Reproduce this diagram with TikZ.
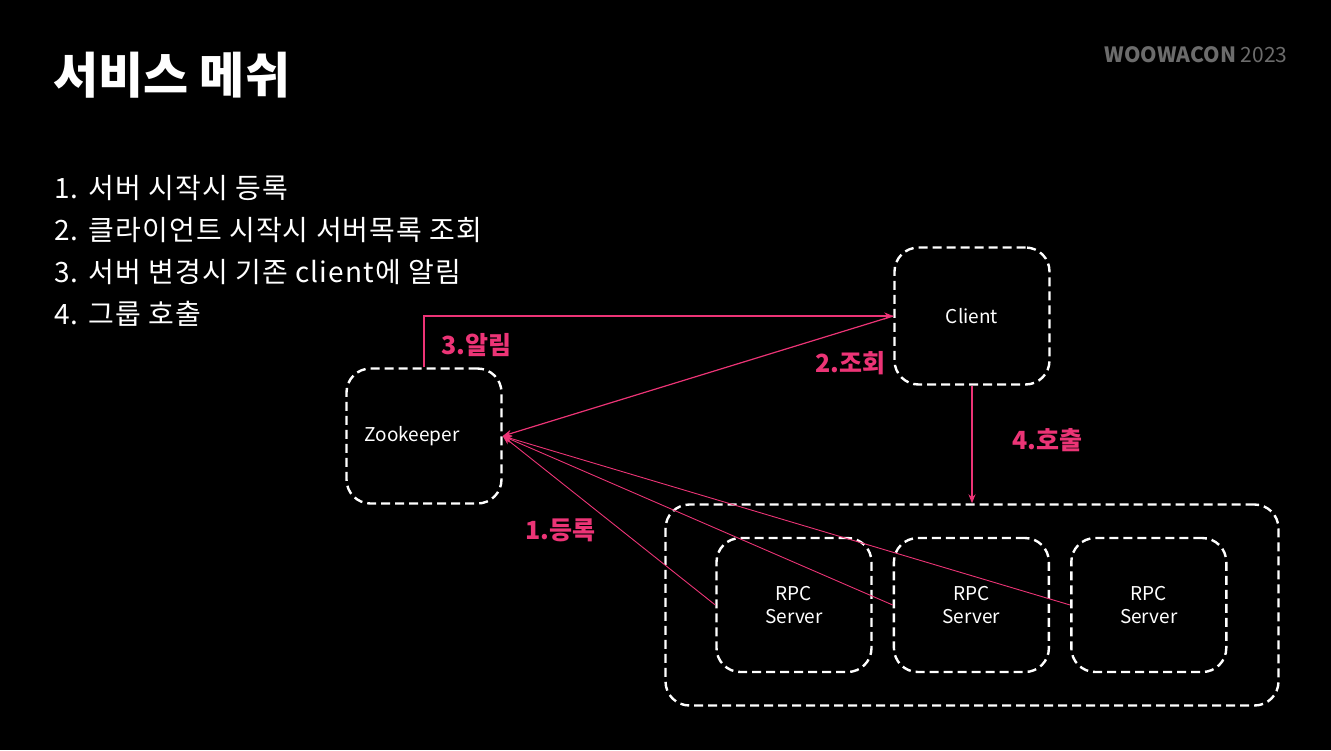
\documentclass[tikz,border=0pt]{standalone}
\usepackage{fontspec}
\setmainfont{Noto Sans CJK KR}
\newfontfamily\listfont{Noto Sans CJK KR}[LetterSpace=4]
\usetikzlibrary{arrows.meta,positioning}
\definecolor{meshpink}{RGB}{236,52,118}
\definecolor{logogray}{RGB}{108,108,108}

\begin{document}
\begin{tikzpicture}[
    x=1pt, y=-1pt,
    box/.style={draw=white, dash pattern=on 9pt off 5pt, line width=2.4pt,
        rounded corners=24pt, text=white, align=center,
        minimum width=155pt, minimum height=135pt,
        font=\fontsize{19}{23}\selectfont},
    link/.style={draw=meshpink, line width=1.2pt, -{Stealth[length=9pt,width=7pt]}},
    tag/.style={text=meshpink, font=\fontsize{25}{28}\selectfont\bfseries}
]

\fill[black] (0,0) rectangle (1331,750);

\node[anchor=west, text=white, font=\fontsize{49}{52}\selectfont\bfseries] (title) at (50,75) {서비스 메쉬};
\node[anchor=east, text=logogray, font=\fontsize{21}{24}\selectfont] (logo) at (1291,55) {\textbf{WOOWACON} 2023};

\foreach \txt [count=\i] in {서버 시작시 등록, 클라이언트 시작시 서버목록 조회, 서버 변경시 기존 client에 알림, 그룹 호출}
    \node[anchor=base west, inner sep=0pt, text=white, font=\listfont\fontsize{28}{32}\selectfont] (step\i) at (54,156+42*\i) {\i. \txt};

\node[box, minimum height=137pt] (client) at (972,316) {Client};
\node[box] (zk) at (424,436) {Zookeeper\hspace*{24pt}};

\node[box, minimum width=613pt, minimum height=201pt] (group) at (972,605) {};
\node[box, minimum height=134pt] (rpcA) at (794,605) {RPC\\Server};
\node[box, minimum height=134pt, right=20pt of rpcA] (rpcB) {RPC\\Server};
\node[box, minimum height=134pt, right=20pt of rpcB] (rpcC) {RPC\\Server};

\draw[link] (zk.north) |- (client.west);
\draw[link] (client.west) -- (zk.east);
\draw[link] (client.south) -- (group.north);
\foreach \srv in {rpcA,rpcB,rpcC}
    \draw[link, line width=0.9pt] (\srv.west) -- (zk.east);

\node[tag] (lblNotify) at (476,345) {3.알림};
\node[tag] (lblQuery) at (850,363) {2.조회};
\node[tag] (lblCall) at (1047,440) {4.호출};
\node[tag] (lblReg) at (560,530) {1.등록};

\end{tikzpicture}
\end{document}
